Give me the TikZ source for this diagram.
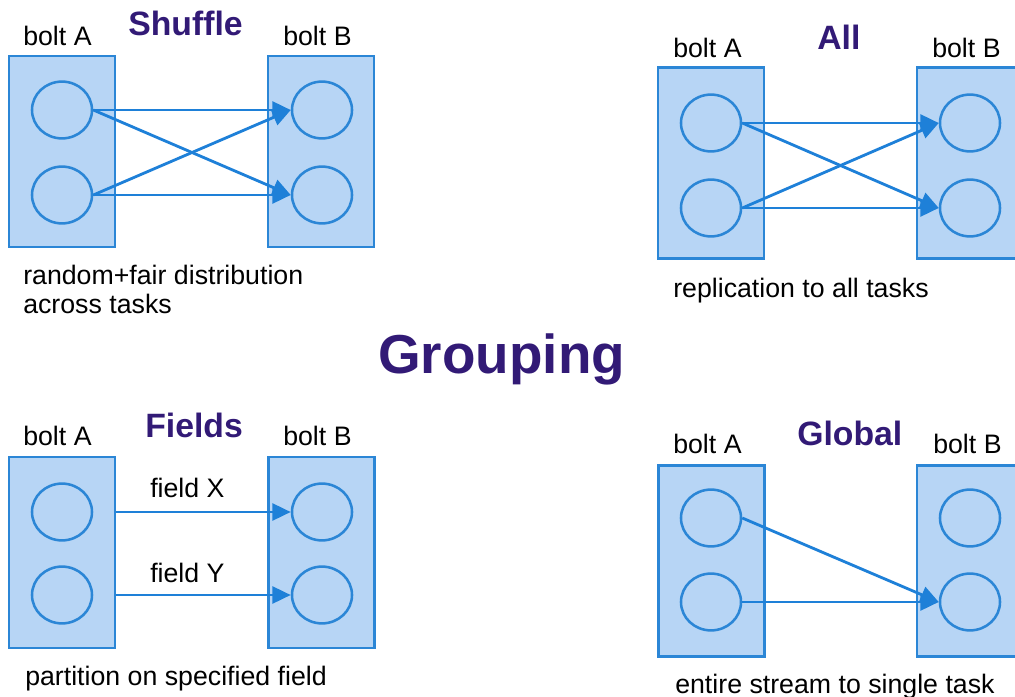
\documentclass[tikz,border=0pt]{standalone}
\usepackage{fontspec}
\setmainfont{Liberation Sans}
\usepackage{xcolor}
\usetikzlibrary{arrows.meta,positioning,shapes.geometric}
\definecolor{boltfill}{RGB}{183,213,245}
\definecolor{boltline}{RGB}{43,134,214}
\definecolor{flowline}{RGB}{30,128,216}
\definecolor{headcol}{RGB}{50,26,118}

\begin{document}
\begin{tikzpicture}[
		x=0.025cm, y=-0.025cm,
		bolt/.style={
			rectangle, draw=boltline, fill=boltfill, line width=1.8pt,
			minimum width=2.65cm, minimum height=4.77cm, inner sep=0pt
		},
		task/.style={
			ellipse, draw=boltline, line width=1.8pt,
			minimum width=1.5cm, minimum height=1.42cm, inner sep=0pt
		},
		arrow/.style={-{Triangle[length=13pt,width=12pt]}, draw=flowline, line width=2pt},
		lbl/.style={anchor=base west, inner sep=0pt, font=\fontsize{19}{20.6}\selectfont},
		head/.style={anchor=base west, inner sep=0pt, text=headcol, font=\fontsize{24}{28}\selectfont\bfseries}
		]
		\useasboundingbox (0,0) rectangle (1015,697);

		% Shuffle
		\node[bolt] (shufA) at (62,151.5) {};
		\node[bolt] (shufB) at (321,151.5) {};
		\node[task] (shufA1) at (62,110) {};
		\node[task] (shufA2) at (62,195) {};
		\node[task] (shufB1) at (322,110) {};
		\node[task] (shufB2) at (322,195) {};
		\node[lbl] (shufLA) at (23,45) {bolt A};
		\node[lbl] (shufLB) at (283,45) {bolt B};
		\node[head] (shufT) at (128,35) {Shuffle};
		\node[lbl, align=left] (shufD) at (23,313) {random+fair distribution\\across tasks};
		\draw[arrow] (shufA1.east) -- (shufB1.west);
		\draw[arrow] (shufA1.east) -- (shufB2.west);
		\draw[arrow] (shufA2.east) -- (shufB1.west);
		\draw[arrow] (shufA2.east) -- (shufB2.west);

		% All
		\node[bolt] (allA) at (711,163) {};
		\node[bolt] (allB) at (970,163) {};
		\node[task] (allA1) at (711,123) {};
		\node[task] (allA2) at (711,208) {};
		\node[task] (allB1) at (970,123) {};
		\node[task] (allB2) at (970,208) {};
		\node[lbl] (allLA) at (673,58) {bolt A};
		\node[lbl] (allLB) at (932,58) {bolt B};
		\node[head] (allT) at (817,50) {All};
		\node[lbl] (allD) at (673,297) {replication to all tasks};
		\draw[arrow] (allA1.east) -- (allB1.west);
		\draw[arrow] (allA1.east) -- (allB2.west);
		\draw[arrow] (allA2.east) -- (allB1.west);
		\draw[arrow] (allA2.east) -- (allB2.west);

		% title
		\node[head, font=\fontsize{39}{44}\selectfont\bfseries] (grp) at (378,373) {Grouping};

		% Fields
		\node[bolt] (fldA) at (62,552.5) {};
		\node[bolt] (fldB) at (321.5,552.5) {};
		\node[task] (fldA1) at (62,512) {};
		\node[task] (fldA2) at (62,595) {};
		\node[task] (fldB1) at (322,512) {};
		\node[task] (fldB2) at (322,595) {};
		\node[lbl] (fldLA) at (23,445) {bolt A};
		\node[lbl] (fldLB) at (283,445) {bolt B};
		\node[head] (fldT) at (145,437) {Fields};
		\node[lbl] (fldX) at (150,497) {field X};
		\node[lbl] (fldY) at (150,582) {field Y};
		\node[lbl] (fldD) at (25,685) {partition on specified field};
		\draw[arrow] (fldA1 -| fldA.east) -- (fldB1.west);
		\draw[arrow] (fldA2 -| fldA.east) -- (fldB2.west);

		% Global
		\node[bolt] (glbA) at (711.5,561) {};
		\node[bolt] (glbB) at (970,561) {};
		\node[task] (glbA1) at (711,518) {};
		\node[task] (glbA2) at (711,602) {};
		\node[task] (glbB1) at (970,518) {};
		\node[task] (glbB2) at (970,602) {};
		\node[lbl] (glbLA) at (673,453) {bolt A};
		\node[lbl] (glbLB) at (933,453) {bolt B};
		\node[head] (glbT) at (797,445) {Global};
		\node[lbl] (glbD) at (675,693) {entire stream to single task};
		\draw[arrow] (glbA1.east) -- (glbB2.west);
		\draw[arrow] (glbA2.east) -- (glbB2.west);
\end{tikzpicture}
\end{document}
